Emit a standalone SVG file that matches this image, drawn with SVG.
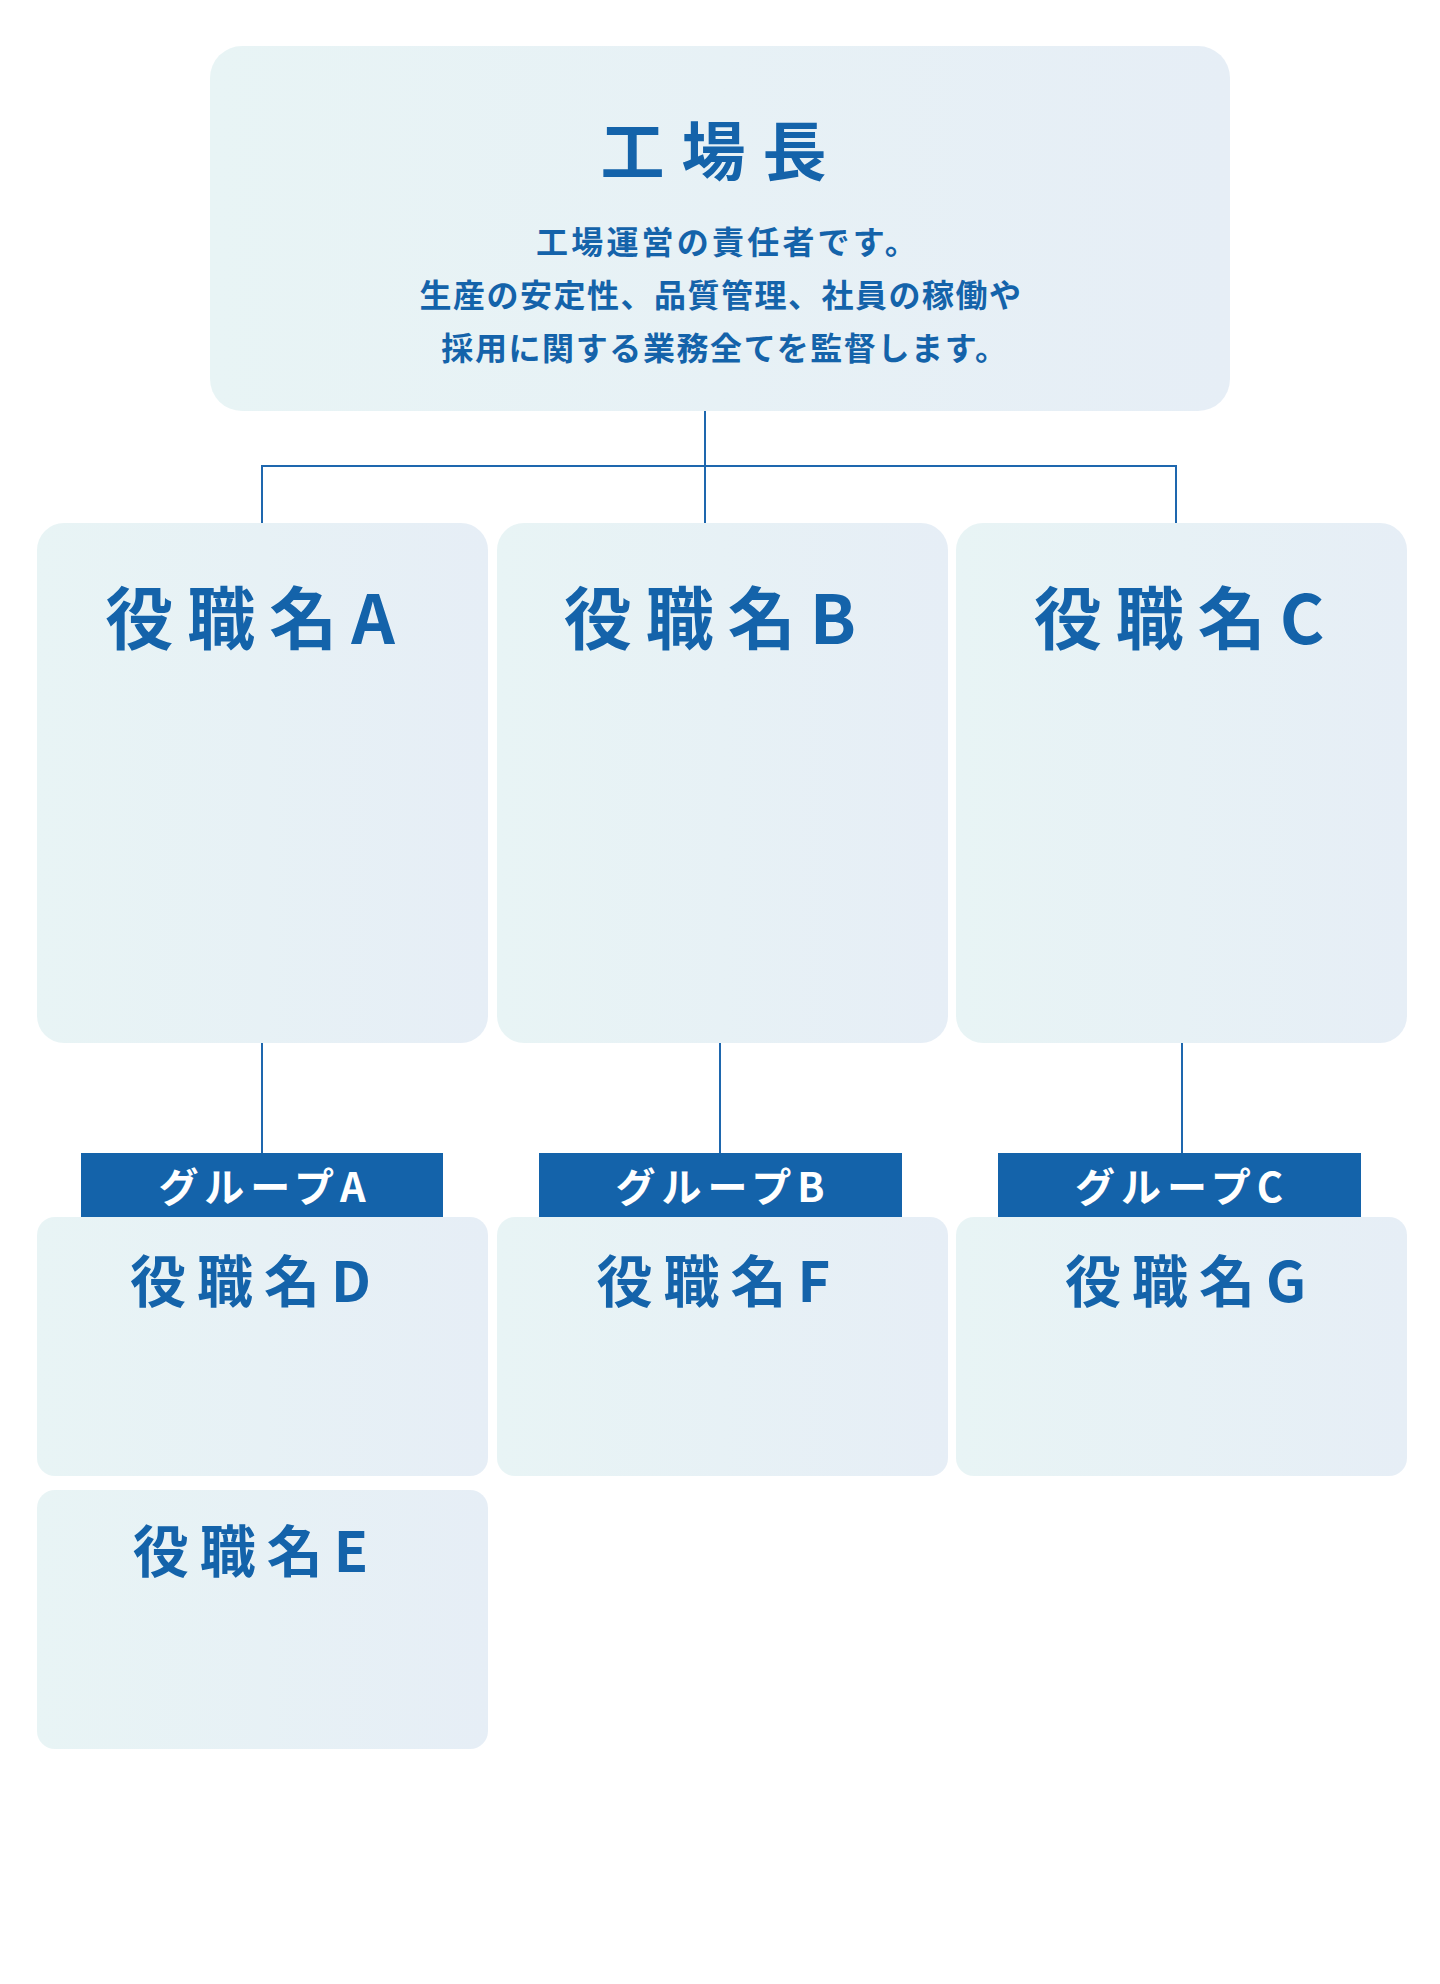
<svg xmlns="http://www.w3.org/2000/svg" width="1440" height="1984" viewBox="0 0 1440 1984">
<defs>
<linearGradient id="bg" x1="0" y1="0" x2="1" y2="0">
<stop offset="0" stop-color="#E8F4F5"/>
<stop offset="1" stop-color="#E6EEF6"/>
</linearGradient>
<style>
.box{fill:url(#bg);}
.t{font-family:"Noto Sans CJK JP","Noto Sans",sans-serif;font-weight:700;fill:#1463AA;text-anchor:middle;}
.head{font-size:64px;letter-spacing:17px;}
.desc{font-size:32px;letter-spacing:2px;}
.role{font-size:68px;letter-spacing:14px;}
.role2{font-size:56px;letter-spacing:11px;}
.grp{fill:#1463AA;}
.gt{font-family:"Noto Sans CJK JP","Noto Sans",sans-serif;font-weight:700;fill:#FFFFFF;text-anchor:middle;font-size:40px;letter-spacing:6px;}
.ln{stroke:#1E67AE;stroke-width:2;fill:none;}
</style>
</defs>
<rect width="1440" height="1984" fill="#FFFFFF"/>
<g id="connectors">
<line class="ln" x1="705" y1="411" x2="705" y2="466"/>
<line class="ln" x1="261" y1="466" x2="1177" y2="466"/>
<line class="ln" x1="262" y1="466" x2="262" y2="523"/>
<line class="ln" x1="705" y1="466" x2="705" y2="523"/>
<line class="ln" x1="1176" y1="466" x2="1176" y2="523"/>
<line class="ln" x1="262" y1="1043" x2="262" y2="1153"/>
<line class="ln" x1="720" y1="1043" x2="720" y2="1153"/>
<line class="ln" x1="1182" y1="1043" x2="1182" y2="1153"/>
</g>
<g id="node-head">
<rect class="box" x="210" y="46" width="1020" height="365" rx="32"/>
<text class="t head" x="722" y="175">工場長</text>
<text class="t desc" x="728" y="254" style="letter-spacing:3.2px">工場運営の責任者です。</text>
<text class="t desc" x="721" y="307" style="letter-spacing:1.5px">生産の安定性、品質管理、社員の稼働や</text>
<text class="t desc" x="725" y="360" style="letter-spacing:1.6px">採用に関する業務全てを監督します。</text>
</g>
<g id="node-a">
<rect class="box" x="37" y="523" width="451" height="520" rx="27"/>
<text class="t role" x="257" y="644">役職名A</text>
</g>
<g id="node-b">
<rect class="box" x="497" y="523" width="451" height="520" rx="27"/>
<text class="t role" x="717" y="644">役職名B</text>
</g>
<g id="node-c">
<rect class="box" x="956" y="523" width="451" height="520" rx="27"/>
<text class="t role" x="1186" y="644">役職名C</text>
</g>
<g id="group-a">
<rect class="grp" x="81" y="1153" width="362" height="64"/>
<text class="gt" x="265" y="1202">グループA</text>
</g>
<g id="group-b">
<rect class="grp" x="539" y="1153" width="363" height="64"/>
<text class="gt" x="723" y="1202">グループB</text>
</g>
<g id="group-c">
<rect class="grp" x="998" y="1153" width="363" height="64"/>
<text class="gt" x="1182" y="1202">グループC</text>
</g>
<g id="node-d">
<rect class="box" x="37" y="1217" width="451" height="259" rx="18"/>
<text class="t role2" x="256" y="1302">役職名D</text>
</g>
<g id="node-e">
<rect class="box" x="37" y="1490" width="451" height="259" rx="18"/>
<text class="t role2" x="256" y="1572">役職名E</text>
</g>
<g id="node-f">
<rect class="box" x="497" y="1217" width="451" height="259" rx="18"/>
<text class="t role2" x="719" y="1302">役職名F</text>
</g>
<g id="node-g">
<rect class="box" x="956" y="1217" width="451" height="259" rx="18"/>
<text class="t role2" x="1191" y="1302">役職名G</text>
</g>
</svg>
